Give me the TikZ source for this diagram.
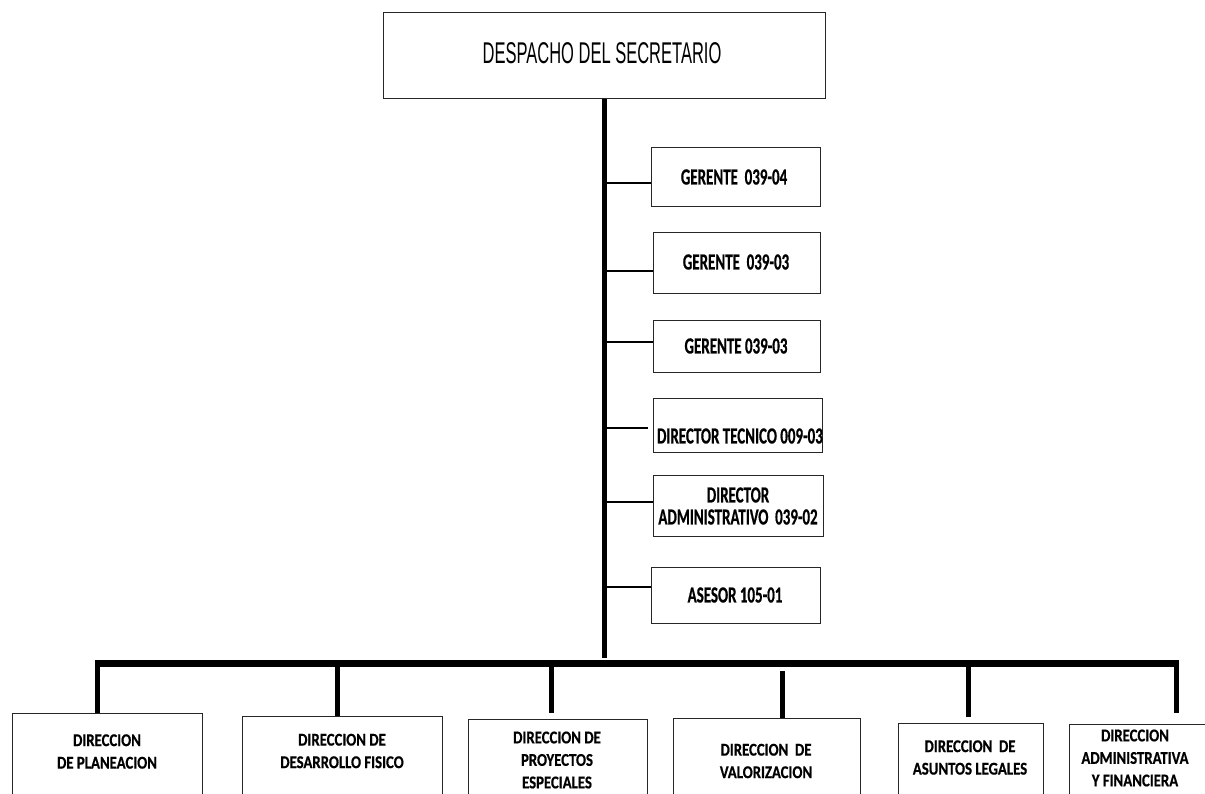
\documentclass[tikz,border=0pt]{standalone}
\usepackage{fontspec}
\newfontfamily\topfont{Liberation Sans}[FakeStretch=0.55]
\newfontfamily\rfont{Carlito}[FakeStretch=0.65,FakeBold=0.6]
\newfontfamily\bfont{Carlito}[FakeStretch=0.82,FakeBold=0.6]
\tikzset{
  box/.style={draw=black!85, line width=1.4pt, fill=white, rectangle, inner sep=0pt, anchor=north west},
  rtext/.style={font=\rfont\bfseries\fontsize{23}{22}\selectfont, align=center, inner sep=0pt},
  btext/.style={font=\bfont\bfseries\fontsize{18}{22.5}\selectfont, align=center, inner sep=0pt},
  thin/.style={line width=1.4pt},
  thick/.style={line width=5pt},
  bar/.style={line width=7pt},
}
\begin{document}
\begin{tikzpicture}[x=1pt,y=-1pt]
\useasboundingbox (0,0) rectangle (1205,793);
\clip (0,0) rectangle (1205,793);
% top
\node[box, minimum width=442pt, minimum height=86pt] (top) at (383,12) {};
\node[font=\topfont\fontsize{30}{32}\selectfont, inner sep=0pt] (toptxt) at (602,53) {DESPACHO DEL SECRETARIO};
% trunk
\coordinate (trunkbot) at (604,658);
\draw[thick] (top.south -| trunkbot) -- (trunkbot);
% right boxes
\node[box, minimum width=169pt, minimum height=59pt] (g1) at (651,147) {};
\node[rtext] (g1t) at (734,177) {GERENTE\ \ 039-04};
\node[box, minimum width=167pt, minimum height=61pt] (g2) at (653,232) {};
\node[rtext] (g2t) at (736,262) {GERENTE\ \ 039-03};
\node[box, minimum width=167pt, minimum height=52pt] (g3) at (653,320) {};
\node[rtext] (g3t) at (736,346) {GERENTE 039-03};
\node[box, minimum width=169pt, minimum height=54pt] (dt) at (653,398) {};
\node[rtext, anchor=east] (dtt) at (823,436) {DIRECTOR\ TECNICO 009-03};
\node[box, minimum width=170pt, minimum height=61pt] (da) at (653,475) {};
\node[rtext] (dat) at (738,506) {DIRECTOR\\ADMINISTRATIVO\ \ 039-02};
\node[box, minimum width=169pt, minimum height=56pt] (as) at (651,567) {};
\node[rtext] (ast) at (735,595) {ASESOR 105-01};
% connectors to right boxes
\coordinate (c1) at (604,183);
\coordinate (c2) at (604,271);
\coordinate (c3) at (604,342);
\coordinate (c4) at (602,428);
\coordinate (c5) at (604,502);
\coordinate (c6) at (604,587);
\draw[thin] (c1) -- (c1 -| g1.west);
\draw[thin] (c2) -- (c2 -| g2.west);
\draw[thin] (c3) -- (c3 -| g3.west);
\draw[thin, shorten >=5pt] (c4) -- (c4 -| dt.west);
\draw[thin] (c5) -- (c5 -| da.west);
\draw[thin] (c6) -- (c6 -| as.west);
% bottom bar
\coordinate (barL) at (97,663);
\coordinate (barR) at (1178,663);
\draw[bar] ([xshift=-2.5pt]barL) -- ([xshift=1pt]barR);
% bottom boxes
\node[box, minimum width=190pt, minimum height=100pt] (b1) at (12,713) {};
\node[box, minimum width=200pt, minimum height=100pt] (b2) at (242,716) {};
\node[box, minimum width=179pt, minimum height=100pt] (b3) at (468,719) {};
\node[box, minimum width=187pt, minimum height=100pt] (b4) at (673,718) {};
\node[box, minimum width=145pt, minimum height=100pt] (b5) at (898,723) {};
\node[box, minimum width=140pt, minimum height=100pt] (b6) at (1069,724) {};
\node[btext] (b1t) at (107,751.5) {DIRECCION\\DE PLANEACION};
\node[btext] (b2t) at (342,751) {DIRECCION DE\\DESARROLLO FISICO};
\node[btext] (b3t) at (557,760) {DIRECCION DE\\PROYECTOS\\ESPECIALES};
\node[btext] (b4t) at (766,761) {DIRECCION\ \ DE\\VALORIZACION};
\node[btext] (b5t) at (970,757.5) {DIRECCION\ \ DE\\ASUNTOS LEGALES};
\node[btext] (b6t) at (1135,758) {DIRECCION\\ADMINISTRATIVA\\Y FINANCIERA};
% drops
\coordinate (d1) at (97,663);
\coordinate (d2) at (337,663);
\coordinate (d3) at (551,663);
\coordinate (d4) at (782,671);
\coordinate (d5) at (968,663);
\coordinate (d6) at (1176,663);
\draw[thick] (d1) -- (d1 |- b1.north);
\draw[thick] (d2) -- (d2 |- b2.north);
\draw[thick, shorten >=6pt] (d3) -- (d3 |- b3.north);
\draw[thick] (d4) -- (d4 |- b4.north);
\draw[thick, shorten >=6pt] (d5) -- (d5 |- b5.north);
\draw[thick, shorten >=11pt] (d6) -- (d6 |- b6.north);
\end{tikzpicture}
\end{document}
